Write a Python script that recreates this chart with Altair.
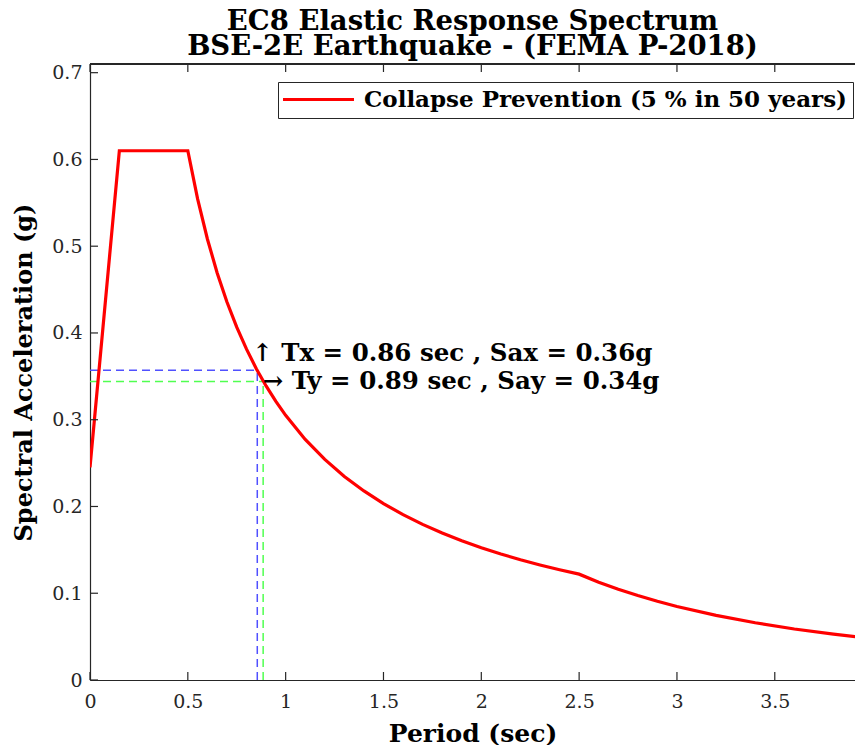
import altair as alt
import pandas as pd

# Spectrum
period = [0.0, 0.15, 0.5, 0.55, 0.6, 0.65, 0.7, 0.75, 0.8, 0.85, 0.9, 0.95, 1.0,
          1.1, 1.2, 1.3, 1.4, 1.5, 1.6, 1.7, 1.8, 1.9, 2.0, 2.1, 2.2, 2.3, 2.4, 2.5,
          2.6, 2.7, 2.8, 2.9, 3.0, 3.2, 3.4, 3.6, 3.8, 4.0]
sa = [0.245, 0.61, 0.61, 0.5545, 0.5083, 0.4692, 0.4357, 0.4067, 0.3813, 0.3588,
      0.3389, 0.3211, 0.305, 0.2773, 0.2542, 0.2346, 0.2179, 0.2033, 0.1906, 0.1794,
      0.1694, 0.1605, 0.1525, 0.1452, 0.1386, 0.1326, 0.1271, 0.122, 0.1128, 0.1046,
      0.0973, 0.0907, 0.0847, 0.0745, 0.0660, 0.0588, 0.0528, 0.0477]
series_name = "Collapse Prevention (5 % in 50 years)"

# Marked points
tx, sax = 0.855, 0.357
ty, say = 0.885, 0.344
label_x = "\u2191 Tx = 0.86 sec , Sax = 0.36g"
label_y = "\u2192 Ty = 0.89 sec , Say = 0.34g"

x_ticks = [0, 0.5, 1, 1.5, 2, 2.5, 3, 3.5]
y_ticks = [0, 0.1, 0.2, 0.3, 0.4, 0.5, 0.6, 0.7]
x_domain = [0, 3.91]
y_domain = [0, 0.71]

W, H = 765, 616
FONT = "DejaVu Serif"
AX = "#262626"

df = pd.DataFrame({"T": period, "Sa": sa, "s": series_name})

xs = alt.Scale(domain=x_domain, nice=False, zero=False)
ys = alt.Scale(domain=y_domain, nice=False, zero=False)

line = alt.Chart(df).mark_line(strokeWidth=3.2, clip=True).encode(
    x=alt.X("T:Q", scale=xs, title="Period (sec)",
            axis=alt.Axis(values=x_ticks, format="~g", ticks=False, labelPadding=12,
                          titlePadding=10, domainColor=AX, domainWidth=1.2,
                          labelFont=FONT, labelFontSize=19, labelColor=AX,
                          titleFont=FONT, titleFontSize=25, titleFontWeight="bold",
                          titleColor="black", grid=False, labelFlush=False)),
    y=alt.Y("Sa:Q", scale=ys, title="Spectral Acceleration (g)",
            axis=alt.Axis(values=y_ticks, format="~g", ticks=False, labelPadding=8,
                          titlePadding=15, domainColor=AX, domainWidth=1.2,
                          labelFont=FONT, labelFontSize=19, labelColor=AX,
                          titleFont=FONT, titleFontSize=24, titleFontWeight="bold",
                          titleColor="black", grid=False, labelFlush=False)),
    color=alt.Color("s:N", scale=alt.Scale(domain=[series_name], range=["#ff0000"]),
                    legend=alt.Legend(title=None, orient="none", legendX=188, legendY=18,
                                      symbolType="M-4,0H4", symbolSize=315,
                                      symbolStrokeWidth=3, symbolOffset=23,
                                      labelFont=FONT, labelFontSize=23,
                                      labelFontWeight="bold", labelColor="black",
                                      labelLimit=0, labelOffset=34,
                                      strokeColor=AX, fillColor="white",
                                      padding=6, cornerRadius=0)),
)

hdf = pd.DataFrame({"x0": [0, 0], "x1": [tx, ty], "y": [sax, say], "c": ["b", "g"]})
vdf = pd.DataFrame({"x": [tx, ty], "y0": [0, 0], "y1": [sax, say], "c": ["b", "g"]})
dash_colors = alt.Scale(domain=["b", "g"], range=["#5050ff", "#50ff50"])

hlines = alt.Chart(hdf).mark_rule(strokeDash=[8, 5], strokeWidth=1.5).encode(
    x=alt.X("x0:Q", scale=xs), x2="x1:Q", y=alt.Y("y:Q", scale=ys),
    stroke=alt.Stroke("c:N", scale=dash_colors, legend=None))
vlines = alt.Chart(vdf).mark_rule(strokeDash=[8, 5], strokeWidth=1.5).encode(
    x=alt.X("x:Q", scale=xs), y=alt.Y("y0:Q", scale=ys), y2="y1:Q",
    stroke=alt.Stroke("c:N", scale=dash_colors, legend=None))

tdf = pd.DataFrame({"x": [tx - 0.026, ty - 0.002], "y": [sax + 0.019, say - 0.001],
                    "t": [label_x, label_y]})
texts = alt.Chart(tdf).mark_text(align="left", baseline="middle", font=FONT,
                                 fontSize=24.5, fontWeight="bold", color="black").encode(
    x=alt.X("x:Q", scale=xs), y=alt.Y("y:Q", scale=ys), text="t:N")

# inward tick marks (MATLAB style)
xt = pd.DataFrame({"x": x_ticks})
yt = pd.DataFrame({"y": y_ticks})
ticks_bottom = alt.Chart(xt).mark_rule(color=AX, strokeWidth=1.2).encode(
    x=alt.X("x:Q", scale=xs), y=alt.value(H), y2=alt.value(H - 8))
ticks_top = alt.Chart(xt).mark_rule(color=AX, strokeWidth=1.2).encode(
    x=alt.X("x:Q", scale=xs), y=alt.value(0), y2=alt.value(8))
ticks_left = alt.Chart(yt).mark_rule(color=AX, strokeWidth=1.2).encode(
    y=alt.Y("y:Q", scale=ys), x=alt.value(0), x2=alt.value(8))
top_border = alt.Chart(xt).mark_rule(color=AX, strokeWidth=1.2).encode(
    x=alt.value(0), x2=alt.value(W), y=alt.value(0))

chart = alt.layer(hlines, vlines, line, texts, ticks_bottom, ticks_top, ticks_left,
                  top_border).properties(
    width=W, height=H,
    title=alt.TitleParams(text=["EC8 Elastic Response Spectrum",
                                "BSE-2E Earthquake - (FEMA P-2018)"],
                          font=FONT, fontSize=27.5, fontWeight="bold", color="black",
                          anchor="middle", frame="group", lineHeight=25, offset=3),
    autosize=alt.AutoSizeParams(type="none"),
    padding={"left": 82, "top": 56, "right": 0, "bottom": 65},
).configure_view(stroke=None)

chart.save("out.html", embed_options={"renderer": "svg", "actions": False})
